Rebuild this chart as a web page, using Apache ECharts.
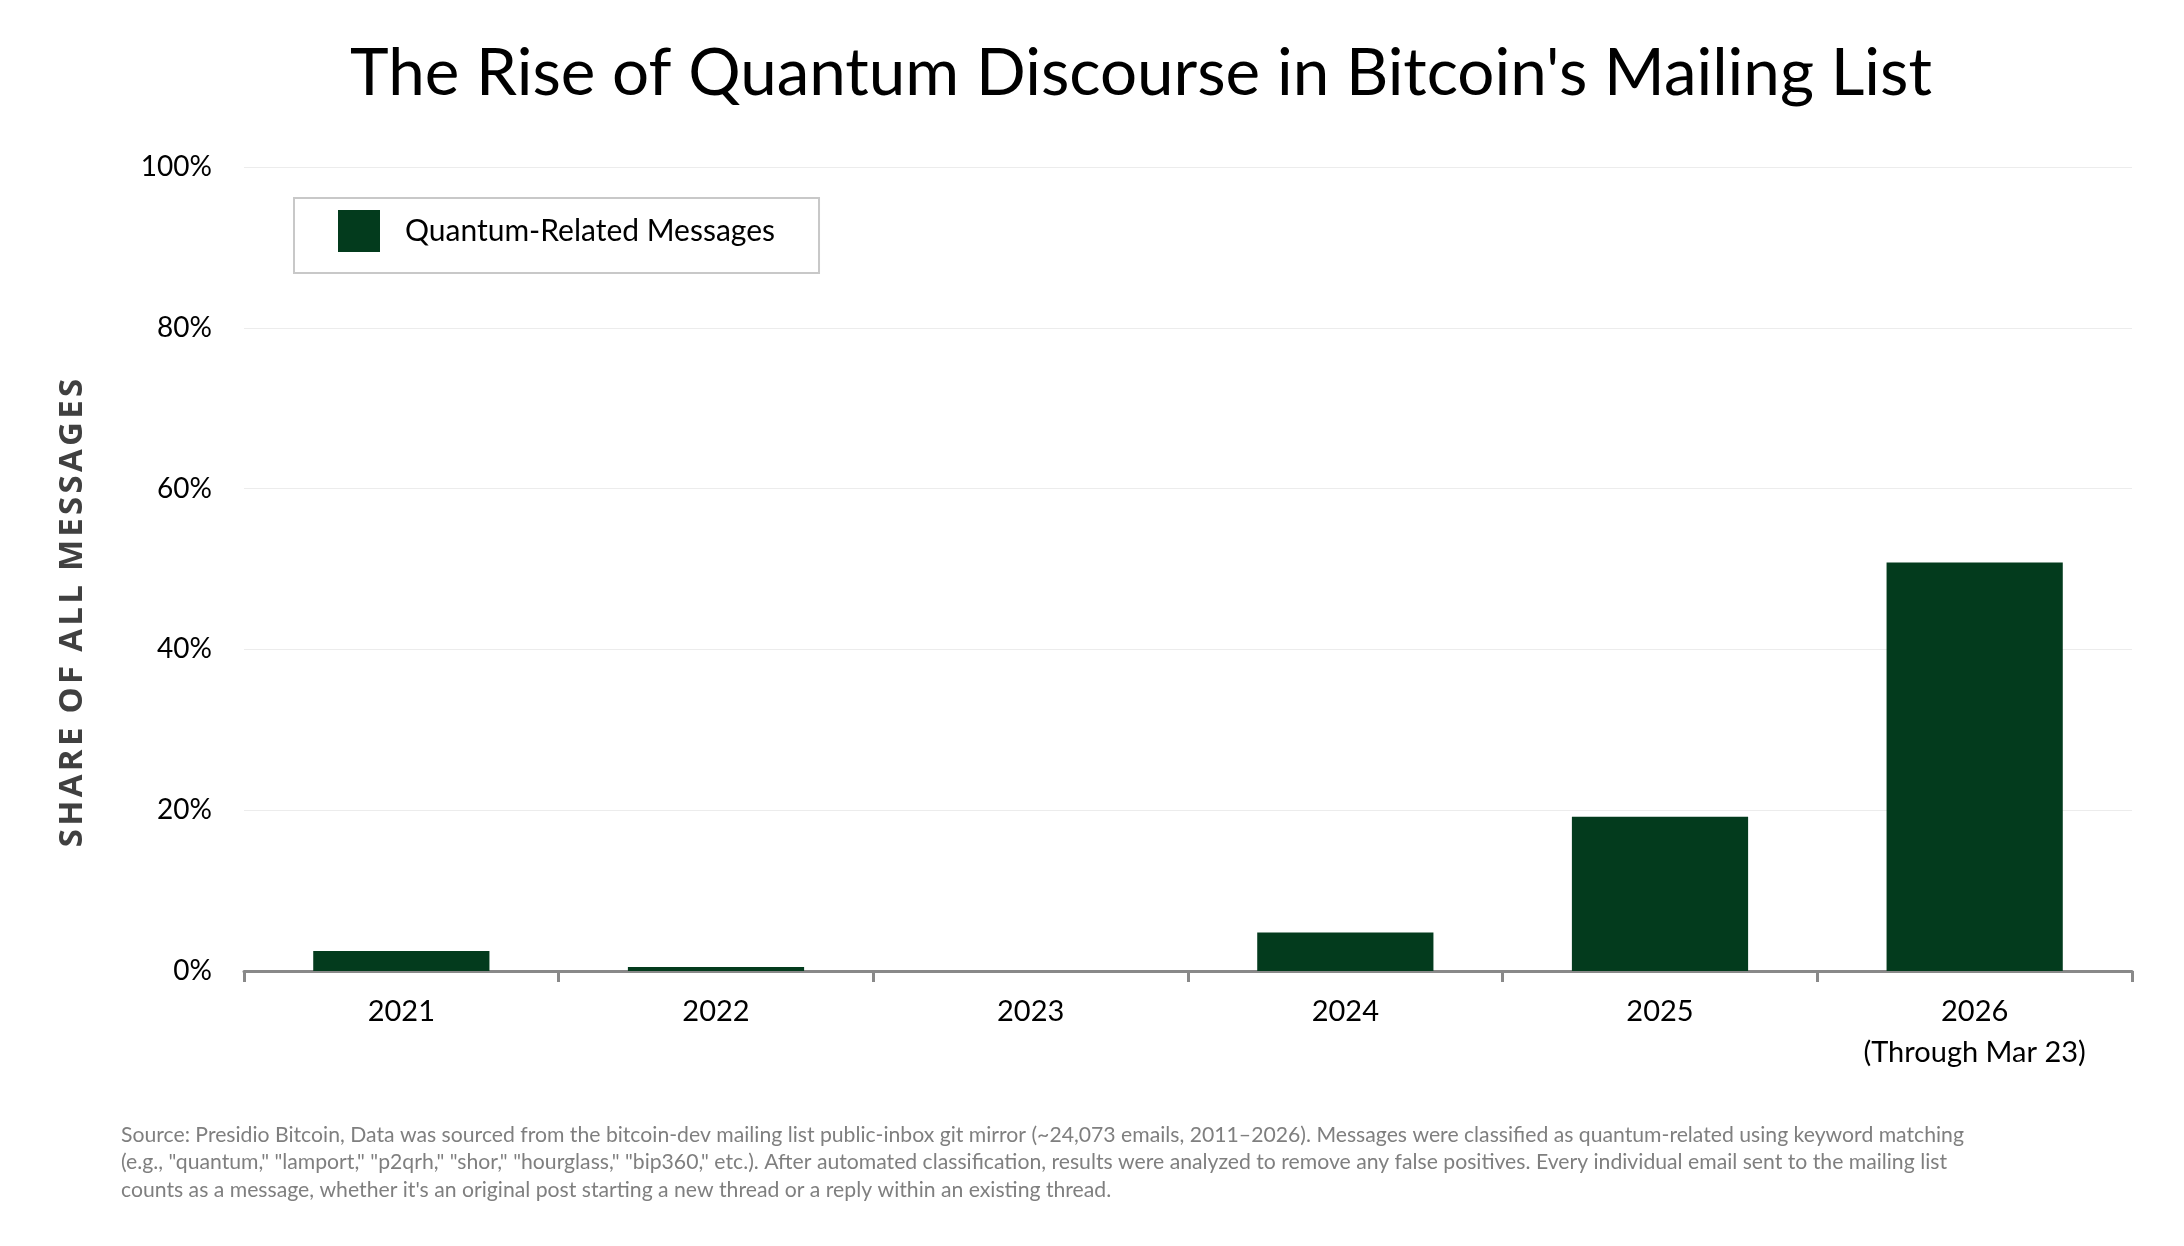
<!DOCTYPE html>
<html>
<head>
<meta charset="utf-8">
<title>The Rise of Quantum Discourse in Bitcoin's Mailing List</title>
<script src="https://cdn.jsdelivr.net/npm/echarts@6/dist/echarts.min.js"></script>
<style>
  html, body { margin: 0; padding: 0; background: #fff; }
  #chart { width: 2184px; height: 1246px; }
</style>
</head>
<body>
<div id="chart"></div>
<script>
// years on the x axis
var years = ['2021', '2022', '2023', '2024', '2025', '2026\n(Through Mar 23)'];
// share of all messages that are quantum-related, in percent
var quantumShare = [2.5, 0.5, 0, 4.8, 19.2, 50.8];
// y axis ticks
var yMin = 0, yMax = 100, yStep = 20;

var footnote = [
  'Source: Presidio Bitcoin, Data was sourced from the bitcoin-dev mailing list public-inbox git mirror (~24,073 emails, 2011\u20132026). Messages were classified as quantum-related using keyword matching',
  '(e.g., "quantum," "lamport," "p2qrh," "shor," "hourglass," "bip360," etc.). After automated classification, results were analyzed to remove any false positives. Every individual email sent to the mailing list',
  'counts as a message, whether it\'s an original post starting a new thread or a reply within an existing thread.'
];

var BAR_GREEN = '#033b1d';
var AXIS_GRAY = '#898989';
var FONT = 'Lato, "Noto Sans", sans-serif';

// spaced-out caps for the y axis title (echarts has no letterSpacing)
function spaced(s) {
  return s.split(' ').map(function (w) {
    return w.split('').join('\u200a');
  }).join(' \u2009');
}

var chart = echarts.init(document.getElementById('chart'), null, {renderer: 'canvas'});

var option = {
  backgroundColor: '#ffffff',
  animation: false,
  textStyle: { fontFamily: FONT },
  title: {
    text: "The Rise of Quantum Discourse in Bitcoin's Mailing List",
    left: 1136,
    top: 36,
    textAlign: 'center',
    textStyle: { fontFamily: FONT, fontSize: 65.5, fontWeight: 'normal', color: '#000' }
  },
  legend: {
    data: ['Quantum-Related Messages'],
    left: 294,
    top: 198,
    orient: 'horizontal',
    icon: 'rect',
    itemWidth: 42,
    itemHeight: 42,
    padding: [12, 44, 21, 44],
    borderColor: '#c8c8c8',
    borderWidth: 2,
    textStyle: { fontFamily: FONT, fontSize: 30, color: '#000', padding: [8, 0, 0, 20] }
  },
  grid: {
    left: 244,
    right: 52,
    top: 167,
    bottom: 275,
    containLabel: false
  },
  xAxis: {
    type: 'category',
    data: years,
    axisLine: { show: true, lineStyle: { color: AXIS_GRAY, width: 3 } },
    axisTick: { show: true, length: 11, lineStyle: { color: AXIS_GRAY, width: 3 } },
    axisLabel: { fontFamily: FONT, fontSize: 29, color: '#000', margin: 20, lineHeight: 41 }
  },
  yAxis: {
    type: 'value',
    min: yMin,
    max: yMax,
    interval: yStep,
    axisLine: { show: false },
    axisTick: { show: false },
    axisLabel: { formatter: '{value}%', fontFamily: FONT, fontSize: 28, color: '#000', margin: 32 },
    splitLine: { show: true, lineStyle: { color: '#ececec', width: 1 } }
  },
  series: [
    {
      name: 'Quantum-Related Messages',
      type: 'bar',
      data: quantumShare,
      barCategoryGap: '44%',
      itemStyle: { color: BAR_GREEN }
    }
  ],
  graphic: [
    {
      type: 'text',
      x: 73,
      y: 613,
      rotation: Math.PI / 2,
      style: {
        text: spaced('SHARE OF ALL MESSAGES'),
        fontFamily: '"Open Sans", sans-serif',
        fontWeight: 'bold',
        fontSize: 33,
        fill: '#404040',
        align: 'center',
        verticalAlign: 'middle'
      }
    },
    {
      type: 'text',
      left: 121,
      top: 1121,
      style: {
        text: footnote.join('\n'),
        fontFamily: FONT,
        fontSize: 21.2,
        lineHeight: 27.5,
        fill: '#7f7f7f'
      }
    }
  ]
};

chart.setOption(option);
</script>
</body>
</html>
